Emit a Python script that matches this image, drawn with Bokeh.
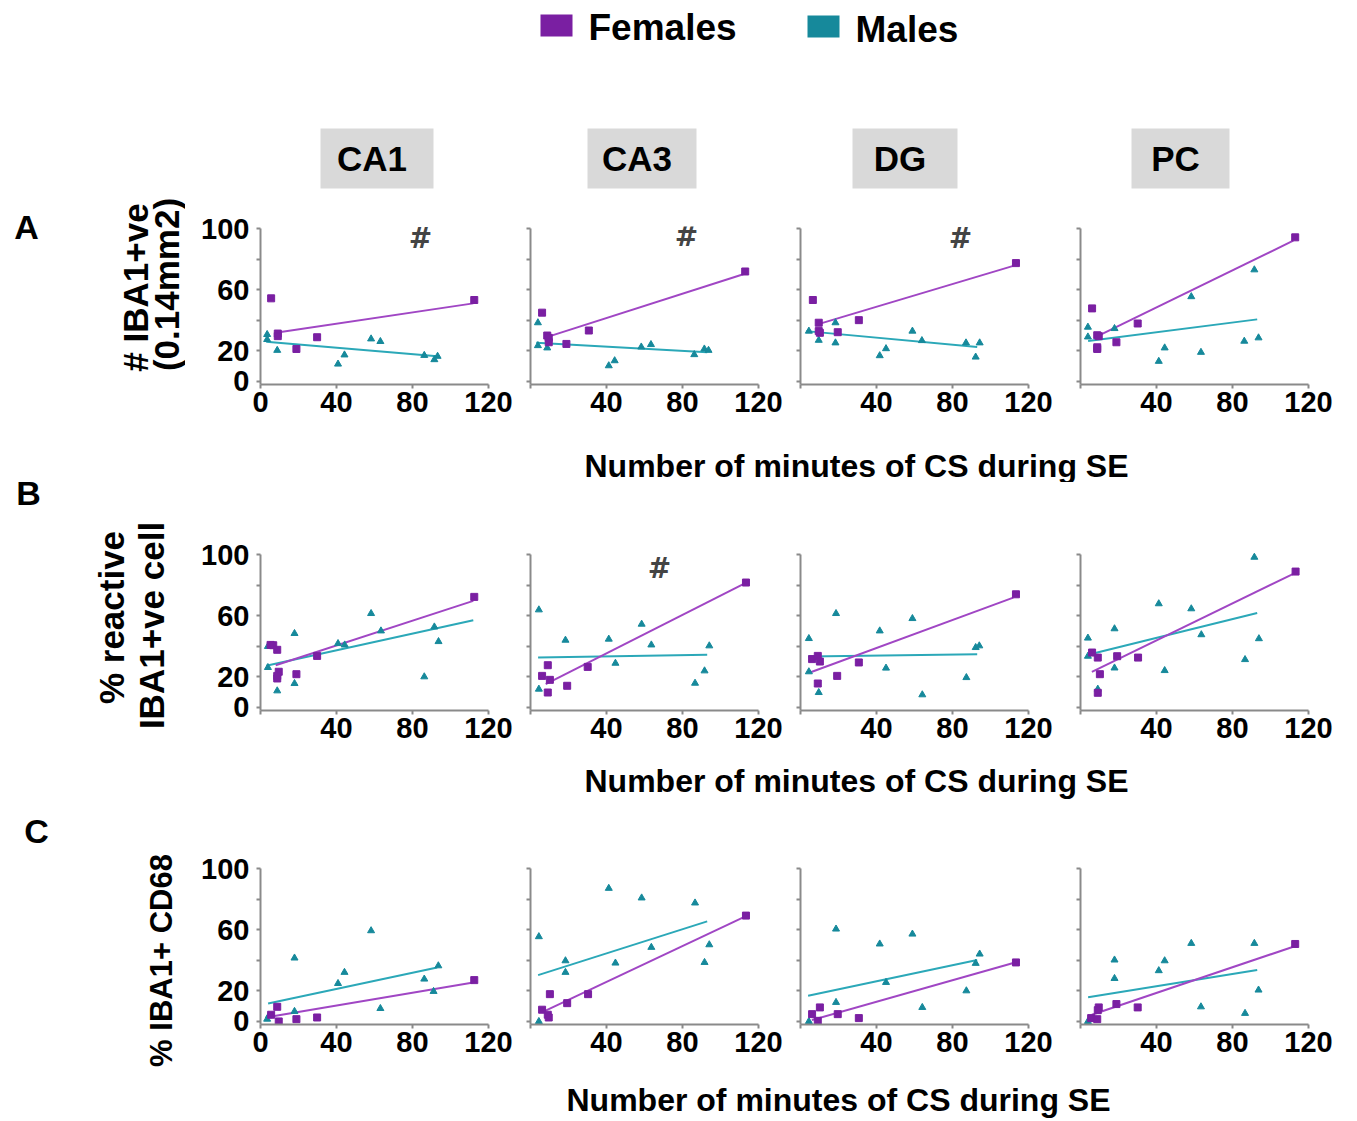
import math
from bokeh.plotting import figure
from bokeh.layouts import column, row
from bokeh.models import Range1d, FixedTicker, Label
from bokeh.embed import file_html
from bokeh.resources import INLINE

# ---------------- data ----------------
regions = ["CA1", "CA3", "DG", "PC"]
row_letters = ["A", "B", "C"]
x_ticks = [0, 40, 80, 120]
y_ticks = [0, 20, 40, 60, 80, 100]
y_tick_labels = {0: "0", 20: "20", 40: "", 60: "60", 80: "", 100: "100"}
x_title = "Number of minutes of CS during SE"

# Row A: # IBA1+ve (0.14mm2)
a_ca1_f_x = [5.6, 9.1, 9.1, 18.9, 29.8, 112.5]
a_ca1_f_y = [54.5, 31.4, 29.7, 21.3, 29.0, 53.4]
a_ca1_f_fit_x = [8, 112]
a_ca1_f_fit_y = [31.9, 51.2]
a_ca1_m_x = [3.5, 3.5, 8.8, 40.8, 44.2, 58.2, 63.1, 86.2, 91.5, 93.2]
a_ca1_m_y = [30.8, 27.5, 20.4, 11.4, 17.4, 27.9, 26.2, 17.1, 14.3, 16.5]
a_ca1_m_fit_x = [3, 93]
a_ca1_m_fit_y = [26.0, 16.5]

a_ca3_f_x = [6.1, 8.8, 9.6, 9.6, 18.9, 30.7, 113.0]
a_ca3_f_y = [45.1, 30.1, 28.6, 25.7, 24.6, 33.4, 72.1]
a_ca3_f_fit_x = [9, 112]
a_ca3_f_fit_y = [29.2, 70.3]
a_ca3_m_x = [3.9, 3.9, 8.8, 41.2, 44.3, 58.3, 63.4, 86.2, 91.5, 93.7]
a_ca3_m_y = [38.5, 23.5, 22.0, 10.3, 13.6, 22.6, 24.2, 17.6, 21.3, 20.4]
a_ca3_m_fit_x = [3, 93]
a_ca3_m_fit_y = [25.3, 19.1]

a_dg_f_x = [6.5, 9.6, 9.6, 10.2, 19.6, 30.7, 113.4]
a_dg_f_y = [53.4, 38.5, 33.0, 31.9, 32.3, 40.2, 77.6]
a_dg_f_fit_x = [9, 112]
a_dg_f_fit_y = [37.4, 75.8]
a_dg_m_x = [4.4, 9.6, 18.4, 18.4, 41.7, 45.0, 58.9, 63.9, 87.1, 92.2, 94.3]
a_dg_m_y = [33.0, 27.0, 38.5, 25.3, 16.9, 21.5, 33.0, 26.8, 25.3, 16.0, 25.3]
a_dg_m_fit_x = [3, 93]
a_dg_m_fit_y = [33.0, 22.6]

a_pc_f_x = [6.1, 8.8, 9.6, 8.8, 8.8, 18.9, 30.1, 113.0]
a_pc_f_y = [47.9, 30.3, 29.7, 22.4, 21.3, 25.7, 38.0, 94.5]
a_pc_f_fit_x = [9, 112]
a_pc_f_fit_y = [29.7, 92.3]
a_pc_m_x = [3.9, 3.9, 8.8, 17.9, 41.2, 44.3, 58.3, 63.4, 86.2, 91.5, 93.7]
a_pc_m_y = [35.6, 29.2, 20.9, 34.7, 13.2, 22.0, 55.6, 19.1, 26.4, 73.2, 28.6]
a_pc_m_fit_x = [4, 93]
a_pc_m_fit_y = [26.5, 40.7]

# Row B: % reactive IBA1+ve cell
b_ca1_f_x = [5.3, 6.7, 8.8, 9.6, 8.8, 8.8, 18.9, 29.8, 112.5]
b_ca1_f_y = [41.0, 40.8, 37.8, 23.4, 19.0, 20.7, 21.8, 33.8, 72.5]
b_ca1_f_fit_x = [8, 112]
b_ca1_f_fit_y = [27.7, 69.9]
b_ca1_m_x = [3.9, 3.9, 8.8, 17.9, 17.9, 40.8, 44.3, 58.2, 63.4, 86.2, 91.5, 93.7]
b_ca1_m_y = [40.0, 26.2, 10.9, 48.5, 15.7, 41.9, 41.0, 61.6, 50.2, 20.1, 52.8, 43.2]
b_ca1_m_fit_x = [3, 112]
b_ca1_m_fit_y = [27.3, 57.2]

b_ca3_f_x = [6.1, 9.1, 10.2, 9.1, 19.3, 30.1, 113.4]
b_ca3_f_y = [20.7, 27.7, 18.1, 9.8, 14.2, 26.6, 81.9]
b_ca3_f_fit_x = [8, 112]
b_ca3_f_fit_y = [15.3, 80.8]
b_ca3_m_x = [4.4, 4.4, 18.4, 41.2, 44.7, 58.5, 63.6, 86.6, 91.6, 94.1]
b_ca3_m_y = [64.0, 12.0, 44.1, 44.8, 29.0, 54.6, 41.0, 15.9, 24.0, 40.4]
b_ca3_m_fit_x = [4, 93]
b_ca3_m_fit_y = [32.7, 34.5]

b_dg_f_x = [6.1, 9.1, 10.2, 9.1, 19.3, 30.7, 113.4]
b_dg_f_y = [31.7, 33.8, 30.1, 15.7, 20.7, 29.5, 74.2]
b_dg_f_fit_x = [5, 112]
b_dg_f_fit_y = [22.9, 72.0]
b_dg_m_x = [4.4, 4.4, 9.6, 18.7, 41.7, 45.0, 58.9, 64.1, 87.3, 92.2, 94.1]
b_dg_m_y = [45.2, 23.4, 9.8, 61.6, 50.2, 25.8, 58.3, 8.3, 19.6, 39.3, 40.4]
b_dg_m_fit_x = [4, 93]
b_dg_m_fit_y = [33.4, 34.9]

b_pc_f_x = [6.1, 9.1, 10.2, 9.1, 19.3, 30.3, 113.2]
b_pc_f_y = [36.0, 32.7, 21.8, 9.6, 33.6, 32.7, 89.1]
b_pc_f_fit_x = [6, 112]
b_pc_f_fit_y = [23.3, 87.6]
b_pc_m_x = [3.9, 3.9, 9.1, 17.9, 17.9, 41.2, 44.3, 58.3, 63.6, 86.6, 91.5, 93.9]
b_pc_m_y = [45.5, 33.6, 12.0, 51.6, 25.9, 68.0, 24.2, 64.7, 47.7, 31.4, 98.5, 45.1]
b_pc_m_fit_x = [4, 93]
b_pc_m_fit_y = [34.6, 61.9]

# Row C: % IBA1+ CD68
c_ca1_f_x = [5.6, 8.8, 9.6, 18.9, 29.8, 112.5]
c_ca1_f_y = [4.4, 9.6, 0.0, 1.5, 2.6, 27.1]
c_ca1_f_fit_x = [5, 112]
c_ca1_f_fit_y = [3.1, 25.6]
c_ca1_m_x = [3.5, 4.4, 17.9, 17.9, 40.8, 44.2, 58.2, 63.1, 86.2, 91.1, 93.6]
c_ca1_m_y = [1.5, 3.7, 41.6, 6.6, 24.9, 32.2, 59.5, 8.5, 27.8, 19.7, 36.5]
c_ca1_m_fit_x = [4, 93]
c_ca1_m_fit_y = [11.8, 35.4]

c_ca3_f_x = [6.1, 10.2, 9.1, 9.6, 19.3, 30.3, 113.4]
c_ca3_f_y = [7.7, 17.9, 4.4, 2.6, 12.0, 17.9, 69.4]
c_ca3_f_fit_x = [6, 112]
c_ca3_f_fit_y = [5.9, 68.3]
c_ca3_m_x = [4.4, 4.4, 18.4, 18.4, 41.2, 44.7, 58.5, 63.6, 86.6, 91.6, 94.1]
c_ca3_m_y = [55.6, 0.0, 39.8, 32.2, 87.3, 38.3, 81.0, 48.6, 77.7, 38.7, 50.3]
c_ca3_m_fit_x = [4, 93]
c_ca3_m_fit_y = [30.4, 65.6]

c_dg_f_x = [6.1, 10.2, 9.1, 19.6, 30.7, 113.4]
c_dg_f_y = [4.8, 9.2, 0.4, 4.8, 2.2, 38.7]
c_dg_f_fit_x = [6, 112]
c_dg_f_fit_y = [0.9, 38.3]
c_dg_m_x = [4.4, 18.7, 18.7, 41.7, 45.0, 58.9, 64.1, 87.3, 92.2, 94.3]
c_dg_m_y = [0.0, 60.6, 12.5, 50.8, 25.6, 57.3, 9.2, 20.1, 38.1, 44.2]
c_dg_m_fit_x = [4, 93]
c_dg_m_fit_y = [16.8, 40.3]

c_pc_f_x = [5.6, 8.8, 9.6, 9.1, 18.9, 30.1, 113.0]
c_pc_f_y = [2.2, 1.5, 9.2, 7.4, 11.4, 9.2, 50.8]
c_pc_f_fit_x = [6, 112]
c_pc_f_fit_y = [4.4, 49.0]
c_pc_m_x = [3.9, 5.3, 17.9, 17.9, 41.2, 44.3, 58.3, 63.4, 86.6, 91.5, 93.7]
c_pc_m_y = [0.0, 1.5, 40.3, 28.2, 33.3, 39.8, 51.2, 9.6, 5.3, 51.2, 20.6]
c_pc_m_fit_x = [4, 93]
c_pc_m_fit_y = [15.8, 33.7]

# significance marks (#): (row, col) -> (x, y) in data units
hash_marks = {(0, 0): (84.2, 93.8), (0, 1): (82.1, 95.1), (0, 2): (84.2, 93.8), (1, 1): (67.9, 91.1)}

panels = [
    [(a_ca1_f_x, a_ca1_f_y, a_ca1_f_fit_x, a_ca1_f_fit_y, a_ca1_m_x, a_ca1_m_y, a_ca1_m_fit_x, a_ca1_m_fit_y),
     (a_ca3_f_x, a_ca3_f_y, a_ca3_f_fit_x, a_ca3_f_fit_y, a_ca3_m_x, a_ca3_m_y, a_ca3_m_fit_x, a_ca3_m_fit_y),
     (a_dg_f_x, a_dg_f_y, a_dg_f_fit_x, a_dg_f_fit_y, a_dg_m_x, a_dg_m_y, a_dg_m_fit_x, a_dg_m_fit_y),
     (a_pc_f_x, a_pc_f_y, a_pc_f_fit_x, a_pc_f_fit_y, a_pc_m_x, a_pc_m_y, a_pc_m_fit_x, a_pc_m_fit_y)],
    [(b_ca1_f_x, b_ca1_f_y, b_ca1_f_fit_x, b_ca1_f_fit_y, b_ca1_m_x, b_ca1_m_y, b_ca1_m_fit_x, b_ca1_m_fit_y),
     (b_ca3_f_x, b_ca3_f_y, b_ca3_f_fit_x, b_ca3_f_fit_y, b_ca3_m_x, b_ca3_m_y, b_ca3_m_fit_x, b_ca3_m_fit_y),
     (b_dg_f_x, b_dg_f_y, b_dg_f_fit_x, b_dg_f_fit_y, b_dg_m_x, b_dg_m_y, b_dg_m_fit_x, b_dg_m_fit_y),
     (b_pc_f_x, b_pc_f_y, b_pc_f_fit_x, b_pc_f_fit_y, b_pc_m_x, b_pc_m_y, b_pc_m_fit_x, b_pc_m_fit_y)],
    [(c_ca1_f_x, c_ca1_f_y, c_ca1_f_fit_x, c_ca1_f_fit_y, c_ca1_m_x, c_ca1_m_y, c_ca1_m_fit_x, c_ca1_m_fit_y),
     (c_ca3_f_x, c_ca3_f_y, c_ca3_f_fit_x, c_ca3_f_fit_y, c_ca3_m_x, c_ca3_m_y, c_ca3_m_fit_x, c_ca3_m_fit_y),
     (c_dg_f_x, c_dg_f_y, c_dg_f_fit_x, c_dg_f_fit_y, c_dg_m_x, c_dg_m_y, c_dg_m_fit_x, c_dg_m_fit_y),
     (c_pc_f_x, c_pc_f_y, c_pc_f_fit_x, c_pc_f_fit_y, c_pc_m_x, c_pc_m_y, c_pc_m_fit_x, c_pc_m_fit_y)],
]

# ---------------- styling / layout ----------------
FONT = "Liberation Sans"
FEM_C = "#7a1fa2"
FEM_LINE = "#a046c4"
MAL_C = "#16899b"
MAL_LINE = "#2ba8b8"
AXIS_C = "#8a8a8a"
HEADER_BG = "#d9d9d9"

FRAME_W = 228
FRAME_H = 158
col_left = [75, 10, 10, 10]
col_right = [32, 32, 42, 32]
row_heights = [240, 274, 265]
row_tops = [36, 70, 61]
LEFT_W = 185
TOTAL_W = 1340
TOTAL_H = 1118
RIGHT_W = TOTAL_W - LEFT_W


def blank(w, h, x0, y0):
    # a text canvas whose data coordinates are page pixels (y downwards)
    p = figure(width=w, height=h, x_range=Range1d(x0, x0 + w), y_range=Range1d(y0 + h, y0),
               x_axis_type=None, y_axis_type=None, toolbar_location=None,
               output_backend="svg", min_border_left=0, min_border_right=0,
               min_border_top=0, min_border_bottom=0)
    p.outline_line_color = None
    return p


def txt(p, x, y, s, size, align="center", angle=0.0, font=FONT):
    p.add_layout(Label(x=x, y=y, text=s, text_font=font, text_font_style="bold",
                       text_font_size=size, text_color="black", text_align=align,
                       text_baseline="middle", angle=angle))


V = math.pi / 2

# left text column (row letters and y titles), full height
left = blank(LEFT_W, TOTAL_H, 0, 0)
txt(left, 26, 226, row_letters[0], "34px")
txt(left, 135, 287, "# IBA1+ve", "35px", angle=V)
txt(left, 166, 284, "(0.14mm2)", "35px", angle=V)
txt(left, 28, 492, row_letters[1], "34px")
txt(left, 111, 617, "% reactive", "35px", angle=V)
txt(left, 151, 625, "IBA1+ve cell", "35px", angle=V)
txt(left, 36, 830, row_letters[2], "34px")
txt(left, 161, 960, "% IBA1+ CD68", "31px", angle=V)

# top strip: legend + column headers
top = blank(RIGHT_W, 190, LEFT_W, 0)
top.rect(x=[556], y=[25], width=32, height=22, fill_color=FEM_C, line_color=None)
top.rect(x=[823], y=[26], width=32, height=22, fill_color=MAL_C, line_color=None)
txt(top, 588, 27, "Females", "37px", align="left")
txt(top, 855, 29, "Males", "37px", align="left")
header_cx = [376.5, 641.5, 904.5, 1180]
header_w = [113, 109, 105, 98]
for name, cx, w in zip(regions, header_cx, header_w):
    top.rect(x=[cx], y=[158], width=w, height=60, fill_color=HEADER_BG, line_color=None)
    txt(top, cx - 5, 158, name, "35px")

# x title strips
xa = blank(RIGHT_W, 52, LEFT_W, 430)
txt(xa, 856, 465, x_title, "32px")
xb = blank(RIGHT_W, 49, LEFT_W, 756)
txt(xb, 856, 780, x_title, "32px")
xc = blank(RIGHT_W, 48, LEFT_W, 1070)
txt(xc, 838, 1099, x_title, "32px")
x_strips = [xa, xb, xc]


def make_panel(r, c, data):
    fx, fy, ffx, ffy, mx, my, mfx, mfy = data
    h = row_heights[r]
    t = row_tops[r]
    b = h - t - FRAME_H
    w = col_left[c] + FRAME_W + col_right[c]
    p = figure(width=w, height=h, x_range=Range1d(0, 120), y_range=Range1d(-2, 101.6),
               toolbar_location=None, output_backend="svg",
               min_border_left=col_left[c], min_border_right=col_right[c],
               min_border_top=t, min_border_bottom=b)
    p.outline_line_color = None
    p.xgrid.visible = False
    p.ygrid.visible = False
    p.xaxis.ticker = FixedTicker(ticks=x_ticks, minor_ticks=[])
    p.yaxis.ticker = FixedTicker(ticks=y_ticks, minor_ticks=[])
    p.xaxis.bounds = (0, 120)
    p.yaxis.bounds = (-2, 100)
    for ax in (p.xaxis[0], p.yaxis[0]):
        ax.axis_line_color = AXIS_C
        ax.axis_line_width = 2
        ax.major_tick_line_color = AXIS_C
        ax.major_tick_line_width = 2
        ax.major_tick_in = 0
        ax.major_tick_out = 4
        ax.major_label_text_font = FONT
        ax.major_label_text_font_style = "bold"
        ax.major_label_text_color = "black"
        ax.major_label_text_font_size = "29px"
    p.xaxis.major_label_standoff = 3
    p.yaxis.major_label_standoff = 7
    if c == 0 and r != 1:
        p.xaxis.major_label_overrides = {}
    else:
        p.xaxis.major_label_overrides = {0: ""}
    if c == 0:
        p.yaxis.major_label_overrides = y_tick_labels
    else:
        p.yaxis.major_label_overrides = {k: "" for k in y_ticks}
        p.yaxis.major_label_text_font_size = "0px"
        p.yaxis.major_label_standoff = 0
    p.line(mfx, mfy, line_color=MAL_LINE, line_width=2)
    p.line(ffx, ffy, line_color=FEM_LINE, line_width=2)
    p.scatter(mx, my, marker="triangle", size=7, fill_color=MAL_C, line_color=MAL_C)
    p.scatter(fx, fy, marker="square", size=7, fill_color=FEM_C, line_color=FEM_C)
    if (r, c) in hash_marks:
        hx, hy = hash_marks[(r, c)]
        p.add_layout(Label(x=hx, y=hy, text="#", text_font="DejaVu Sans", text_font_style="bold",
                           text_font_size="28px", text_align="center", text_baseline="middle"))
    return p


right_items = [top]
for r in range(3):
    figs = [make_panel(r, c, panels[r][c]) for c in range(4)]
    right_items.append(row(*figs, spacing=0))
    right_items.append(x_strips[r])

layout = row(left, column(*right_items, spacing=0), spacing=0)
open("out.html", "w").write(file_html(layout, INLINE))
